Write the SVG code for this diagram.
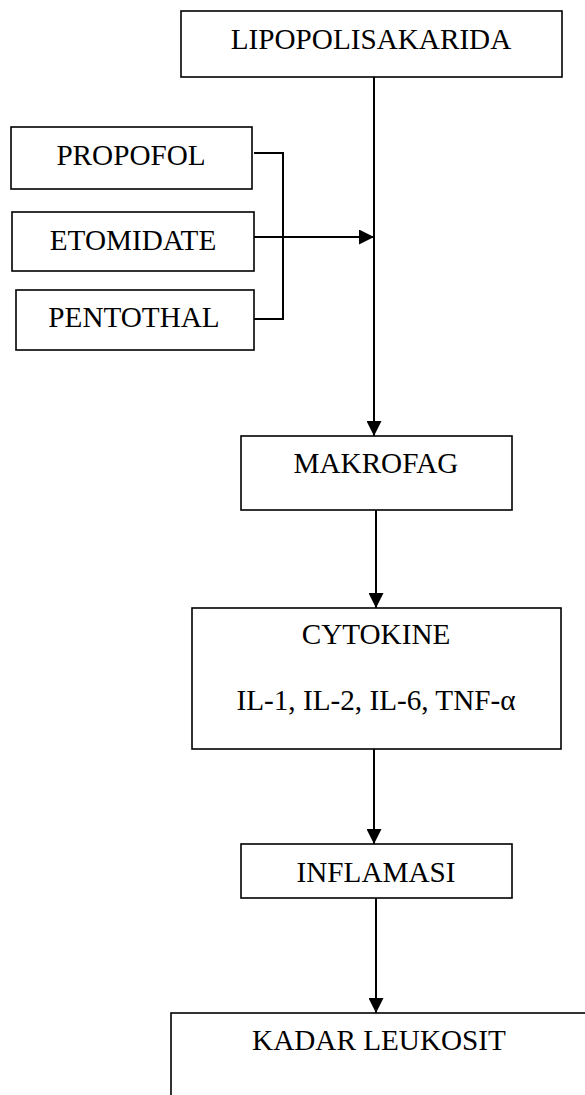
<svg xmlns="http://www.w3.org/2000/svg" width="585" height="1095" viewBox="0 0 585 1095">
<style>
.box{fill:#fff;stroke:#000;stroke-width:1.6}
.lbl{font-family:'Liberation Serif','Times New Roman',Times,serif;font-size:29.2px;fill:#000;text-anchor:middle}
.con{fill:none;stroke:#000;stroke-width:2}
</style>
<defs>
<marker id="arr" viewBox="0 0 15 15" refX="15" refY="7.5" markerWidth="15" markerHeight="15" markerUnits="userSpaceOnUse" orient="auto">
<path d="M0,0 L15,7.5 L0,15 z" fill="#000"/>
</marker>
</defs>
<rect width="585" height="1095" fill="#fff"/>
<g id="connectors">
<path class="con" d="M374,77 L374,436" marker-end="url(#arr)"/>
<path class="con" d="M254,237 L374,237" marker-end="url(#arr)"/>
<path class="con" d="M254,153 L283,153 L283,319 L254,319"/>
<path class="con" d="M376,510 L376,608" marker-end="url(#arr)"/>
<path class="con" d="M374,749 L374,844" marker-end="url(#arr)"/>
<path class="con" d="M376,898 L376,1013" marker-end="url(#arr)"/>
</g>
<g id="lipopolisakarida">
<rect class="box" x="181" y="11" width="381" height="66"/>
<text class="lbl" x="371" y="49">LIPOPOLISAKARIDA</text>
</g>
<g id="propofol">
<rect class="box" x="11" y="127" width="241" height="62"/>
<text class="lbl" x="131" y="165">PROPOFOL</text>
</g>
<g id="etomidate">
<rect class="box" x="12" y="212" width="242" height="59"/>
<text class="lbl" x="133" y="250">ETOMIDATE</text>
</g>
<g id="pentothal">
<rect class="box" x="16" y="290" width="238" height="60"/>
<text class="lbl" x="134" y="327">PENTOTHAL</text>
</g>
<g id="makrofag">
<rect class="box" x="241" y="436" width="271" height="74"/>
<text class="lbl" x="376" y="473">MAKROFAG</text>
</g>
<g id="cytokine">
<rect class="box" x="192" y="608" width="369" height="141"/>
<text class="lbl" x="376" y="644">CYTOKINE</text>
<text class="lbl" x="376" y="710">IL-1, IL-2, IL-6, TNF-α</text>
</g>
<g id="inflamasi">
<rect class="box" x="241" y="844" width="271" height="54"/>
<text class="lbl" x="376" y="882">INFLAMASI</text>
</g>
<g id="kadar-leukosit">
<rect class="box" x="171" y="1013" width="500" height="200"/>
<text class="lbl" x="379" y="1050">KADAR LEUKOSIT</text>
</g>
</svg>
